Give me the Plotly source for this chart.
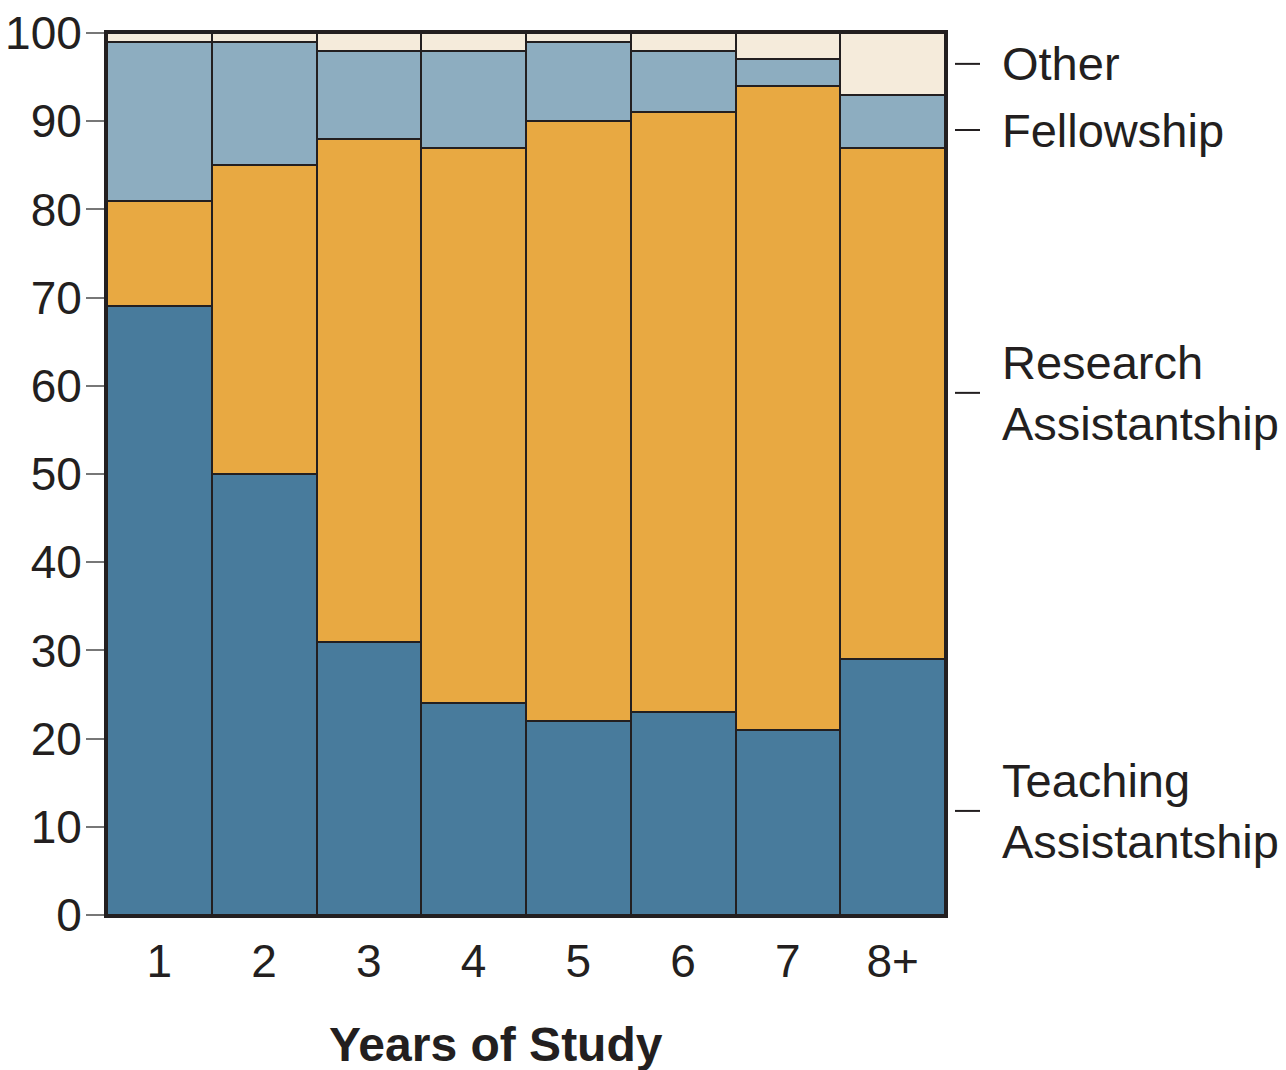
import plotly.graph_objects as go

years = ["1", "2", "3", "4", "5", "6", "7", "8+"]
teaching = [69, 50, 31, 24, 22, 23, 21, 29]
research = [12, 35, 57, 63, 68, 68, 73, 58]
fellowship = [18, 14, 10, 11, 9, 7, 3, 6]
other = [1, 1, 2, 2, 1, 2, 3, 7]

series_names = ["Teaching Assistantship", "Research Assistantship", "Fellowship", "Other"]
series_values = [teaching, research, fellowship, other]
series_colors = ["#487B9C", "#E8A942", "#8DADC0", "#F5EBDB"]

label_texts = ["Other", "Fellowship", "Research<br>Assistantship", "Teaching<br>Assistantship"]
label_y = [96.5, 89.0, 59.2, 11.8]

DARK = "#231F20"
FONT = "Liberation Sans, Arial, sans-serif"

fig = go.Figure()
for name, vals, col in zip(series_names, series_values, series_colors):
    fig.add_trace(go.Bar(
        x=years, y=vals, name=name,
        marker=dict(color=col, line=dict(color=DARK, width=2)),
        width=1.0,
    ))

fig.update_layout(
    barmode="stack", bargap=0,
    width=1286, height=1070,
    margin=dict(l=107, r=341, t=33, b=155, autoexpand=False),
    plot_bgcolor="white", paper_bgcolor="white",
    showlegend=False,
    font=dict(family=FONT, size=46, color=DARK),
)
fig.update_xaxes(
    showline=True, linecolor=DARK, linewidth=3, mirror=True,
    ticks="outside", ticklen=4, tickcolor="rgba(0,0,0,0)",
    tickfont=dict(size=46), showgrid=False, automargin=False,
)
fig.update_yaxes(
    range=[0, 100], tickvals=list(range(0, 101, 10)),
    showline=True, linecolor=DARK, linewidth=3, mirror=True,
    ticks="outside", ticklen=18, tickcolor="#777777", tickwidth=2,
    ticklabelstandoff=-5,
    tickfont=dict(size=46), showgrid=False, zeroline=False, automargin=False,
)

fig.add_annotation(text="<b>Years of Study</b>", xref="paper", yref="paper",
                   x=0.464, y=-0.147, xanchor="center", yanchor="middle",
                   showarrow=False, font=dict(size=48, color=DARK, family=FONT))

for txt, yv in zip(label_texts, label_y):
    fig.add_shape(type="line", xref="paper", yref="y", x0=1.0119, x1=1.0418, y0=yv, y1=yv,
                  line=dict(color=DARK, width=2))
    fig.add_annotation(text=txt, xref="paper", yref="y", x=1.0656, y=yv,
                       xanchor="left", yanchor="middle", align="left", showarrow=False,
                       font=dict(size=47, color=DARK, family=FONT))

fig.write_html("out.html", config={"displayModeBar": False},
               post_script="document.body.style.margin='0px';document.body.style.overflow='hidden';")
